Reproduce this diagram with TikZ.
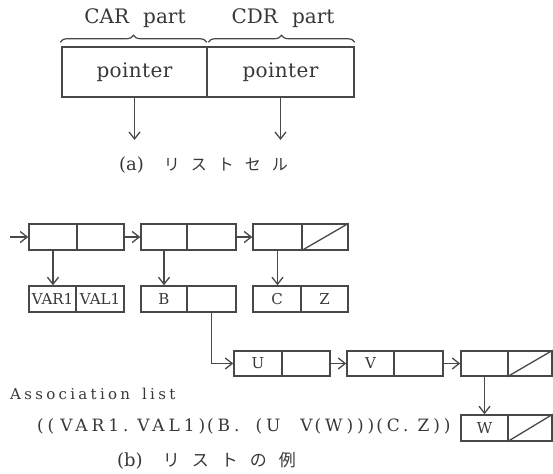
\documentclass[tikz,border=0pt]{standalone}
\usepackage{fontspec}
\setmainfont{DejaVu Serif}
\newfontfamily\jp{Noto Sans CJK JP}
\usetikzlibrary{arrows.meta,decorations.pathreplacing}
\definecolor{lc}{HTML}{484848}
\definecolor{tc}{HTML}{383838}
\begin{document}
\begin{tikzpicture}[x=1pt,y=-1pt,
  half/.style={draw=lc, line width=1.5pt, minimum height=26, inner sep=0pt, text=tc, font=\fontsize{15}{15}\selectfont},
  big/.style={draw=lc, line width=1.5pt, minimum height=50, inner sep=0pt, text=tc, font=\fontsize{20}{20}\selectfont\addfontfeature{LetterSpace=2}},
  conn/.style={draw=lc, line width=1.3pt, -{Straight Barb[length=7pt,width=11pt]}},
  plain/.style={draw=lc, line width=1.3pt},
  lbl/.style={text=tc, inner sep=0pt},
  brc/.style={draw=lc, line width=1.2pt, decorate, decoration={brace, amplitude=7pt}}
]
\useasboundingbox (0,0) rectangle (553,473);

% (a) list cell
\node[big, minimum width=145] (pa) at (134.5,72) {pointer};
\node[big, minimum width=147] (pd) at (280.5,72) {pointer};
\draw[brc] ([xshift=-1pt,yshift=4pt]pa.north west) -- ([xshift=-1pt,yshift=4pt]pa.north east);
\draw[brc] ([xshift=2pt,yshift=4pt]pd.north west) -- ([yshift=4pt]pd.north east);
\node[lbl, font=\fontsize{20}{20}\selectfont] (carl) at (135,18) {CAR\hspace{14pt}part};
\node[lbl, font=\fontsize{20}{20}\selectfont] (cdrl) at (283,18) {CDR\hspace{14pt}part};
\coordinate (pae) at (134.5,140);
\coordinate (pde) at (280.5,140);
\draw[conn] (pa.south) -- (pae);
\draw[conn] (pd.south) -- (pde);
\node[lbl, font=\fontsize{18}{18}\selectfont, anchor=west] (capa) at (119,165) {(a)\hspace{20pt}{\jp\fontsize{16}{16}\selectfont リ\hspace{11pt}ス\hspace{11pt}ト\hspace{11pt}セ\hspace{11pt}ル}};

% (b) row 1
\coordinate (start) at (10,237);
\node[half, minimum width=48] (c1a) at (53,237) {};
\node[half, minimum width=47] (c1d) at (100.5,237) {};
\node[half, minimum width=46] (c2a) at (164,237) {};
\node[half, minimum width=49] (c2d) at (211.5,237) {};
\node[half, minimum width=49] (c3a) at (277.5,237) {};
\node[half, minimum width=46] (c3d) at (325,237) {};
\draw[plain] (c3d.south west) -- (c3d.north east);

% row 2
\node[half, minimum width=47] (va) at (52.5,299) {VAR1};
\node[half, minimum width=48] (vl) at (100,299) {VAL1};
\node[half, minimum width=46] (ba) at (164,299) {B};
\node[half, minimum width=49] (bd) at (211.5,299) {};
\node[half, minimum width=48] (ca) at (277,299) {C};
\node[half, minimum width=47] (cz) at (324.5,299) {Z};

% row 3
\node[half, minimum width=48, minimum height=25] (ua) at (258,363.5) {U};
\node[half, minimum width=48, minimum height=25] (ud) at (306,363.5) {};
\node[half, minimum width=47, minimum height=25] (vA) at (370.5,363.5) {V};
\node[half, minimum width=49, minimum height=25] (vD) at (418.5,363.5) {};
\node[half, minimum width=47, minimum height=25] (la) at (484.5,363.5) {};
\node[half, minimum width=44, minimum height=25] (ld) at (530,363.5) {};
\draw[plain] (ld.south west) -- (ld.north east);

% row 4
\node[half, minimum width=47] (wa) at (484.5,428) {W};
\node[half, minimum width=44] (wd) at (530,428) {};
\draw[plain] (wd.south west) -- (wd.north east);

% connectors
\draw[conn] (start) -- (c1a.west);
\draw[conn] (c1d.east) -- (c2a.west);
\draw[conn] (c2d.east) -- (c3a.west);
\draw[conn] (c1a.south) -- (c1a.south |- va.north);
\draw[conn] (c2a.south) -- (c2a.south |- ba.north);
\draw[conn] (c3a.south) -- (c3a.south |- ca.north);
\draw[conn] (bd.south) |- (ua.west);
\draw[conn] (ud.east) -- (vA.west);
\draw[conn] (vD.east) -- (la.west);
\draw[conn] (la.south) -- (la.south |- wa.north);

% texts
\node[lbl, anchor=west, font=\fontsize{15}{15}\selectfont\addfontfeature{LetterSpace=22}] (assoc) at (10,394) {Association\hspace{12pt}list};
\node[lbl, anchor=west, font=\fontsize{17}{17}\selectfont\addfontfeature{LetterSpace=23}] (sexp) at (37,426) {((\hspace{6pt}VAR1.\hspace{9pt}VAL1)\hspace{2pt}(B.\hspace{16pt}(U\hspace{20pt}V\hspace{2pt}(W)))\hspace{2pt}(C.\hspace{9pt}Z))};
\node[lbl, font=\fontsize{18}{18}\selectfont, anchor=west] (capb) at (117,461) {(b)\hspace{20pt}{\jp\fontsize{17}{17}\selectfont リ\hspace{12pt}ス\hspace{12pt}ト\hspace{12pt}の\hspace{12pt}例}};
\end{tikzpicture}
\end{document}
